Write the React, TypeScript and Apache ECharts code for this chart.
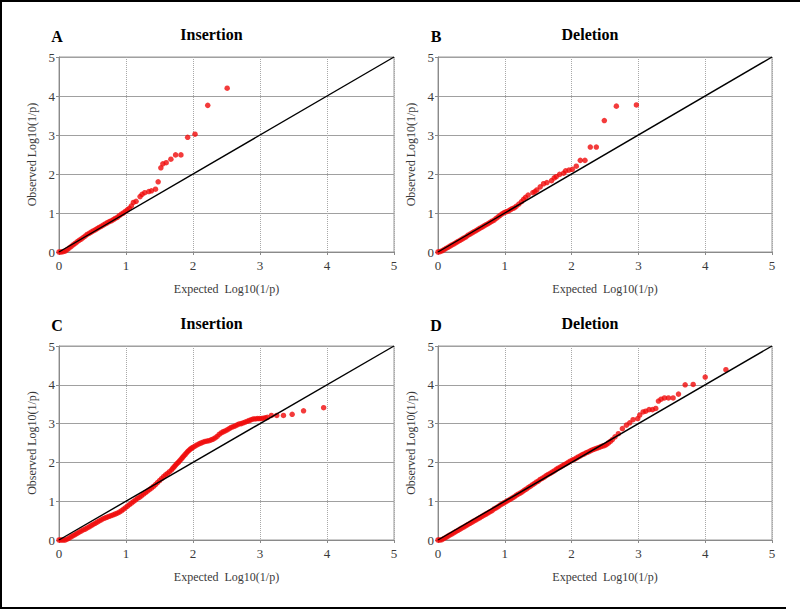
import React, { useEffect, useRef } from "react";
import * as echarts from "echarts";

const panelLetters = ["A", "B", "C", "D"];
const panelTitles = ["Insertion", "Deletion", "Insertion", "Deletion"];
const axisTicks = [0, 1, 2, 3, 4, 5];
const xAxisName = "Expected  Log10(1/p)";
const yAxisName = "Observed Log10(1/p)";
const diagonal = [[0, 0], [5, 5]];

const pointsA = [
  [0, 0], [0.03, 0], [0.06, 0.01], [0.09, 0.02], [0.12, 0.06], [0.15, 0.1], [0.18, 0.14], [0.21, 0.18],
  [0.24, 0.22], [0.27, 0.26], [0.3, 0.3], [0.33, 0.33], [0.36, 0.37], [0.39, 0.41], [0.42, 0.45], [0.45, 0.48],
  [0.48, 0.51], [0.51, 0.54], [0.54, 0.57], [0.57, 0.6], [0.6, 0.63], [0.63, 0.66], [0.66, 0.69], [0.69, 0.72],
  [0.72, 0.75], [0.75, 0.78], [0.78, 0.8], [0.81, 0.83], [0.84, 0.86], [0.87, 0.89], [0.9, 0.93], [0.93, 0.97],
  [0.96, 1.0], [0.99, 1.04], [1.02, 1.08], [1.05, 1.12], [1.08, 1.18], [1.11, 1.27], [1.15, 1.3], [1.21, 1.42],
  [1.24, 1.48], [1.28, 1.52], [1.34, 1.55], [1.38, 1.57], [1.44, 1.61], [1.48, 1.8], [1.52, 2.16], [1.55, 2.26],
  [1.6, 2.29], [1.67, 2.38], [1.74, 2.49], [1.82, 2.49], [1.92, 2.94], [2.03, 3.02], [2.22, 3.76], [2.51, 4.2],
];

const pointsB = [
  [0, 0], [0.03, 0.01], [0.06, 0.03], [0.09, 0.06], [0.12, 0.09], [0.15, 0.12], [0.18, 0.15], [0.21, 0.18],
  [0.24, 0.21], [0.27, 0.24], [0.3, 0.27], [0.33, 0.3], [0.36, 0.33], [0.39, 0.36], [0.42, 0.39], [0.45, 0.43],
  [0.48, 0.46], [0.51, 0.49], [0.54, 0.52], [0.57, 0.55], [0.6, 0.58], [0.63, 0.61], [0.66, 0.64], [0.69, 0.67],
  [0.72, 0.7], [0.75, 0.73], [0.78, 0.76], [0.81, 0.79], [0.84, 0.82], [0.87, 0.86], [0.9, 0.9], [0.93, 0.94],
  [0.96, 0.98], [0.99, 1.01], [1.02, 1.03], [1.05, 1.05], [1.08, 1.08], [1.11, 1.11], [1.14, 1.13], [1.17, 1.17],
  [1.21, 1.23], [1.25, 1.29], [1.28, 1.35], [1.31, 1.4], [1.35, 1.46], [1.42, 1.52], [1.45, 1.55], [1.48, 1.59],
  [1.53, 1.67], [1.58, 1.75], [1.63, 1.78], [1.7, 1.83], [1.74, 1.9], [1.77, 1.93], [1.82, 1.99], [1.88, 2.02],
  [1.91, 2.08], [1.96, 2.1], [2.01, 2.12], [2.07, 2.2], [2.13, 2.35], [2.2, 2.35], [2.28, 2.69], [2.37, 2.69],
  [2.49, 3.37], [2.67, 3.74], [2.97, 3.77],
];

const pointsC = [
  [0, 0], [0.03, 0], [0.06, 0], [0.09, 0], [0.12, 0.02], [0.15, 0.05], [0.18, 0.08], [0.21, 0.11],
  [0.24, 0.14], [0.27, 0.17], [0.3, 0.2], [0.33, 0.23], [0.36, 0.26], [0.39, 0.28], [0.42, 0.31], [0.45, 0.34],
  [0.48, 0.37], [0.51, 0.4], [0.54, 0.43], [0.57, 0.46], [0.6, 0.49], [0.63, 0.52], [0.66, 0.55], [0.69, 0.57],
  [0.72, 0.59], [0.75, 0.61], [0.78, 0.63], [0.81, 0.65], [0.84, 0.67], [0.87, 0.69], [0.9, 0.72], [0.93, 0.75],
  [0.96, 0.79], [0.99, 0.83], [1.02, 0.87], [1.05, 0.91], [1.08, 0.95], [1.11, 0.99], [1.14, 1.03], [1.17, 1.07],
  [1.2, 1.1], [1.23, 1.14], [1.26, 1.18], [1.29, 1.22], [1.32, 1.26], [1.35, 1.3], [1.38, 1.34], [1.41, 1.38],
  [1.44, 1.43], [1.47, 1.48], [1.5, 1.53], [1.53, 1.58], [1.56, 1.63], [1.59, 1.68], [1.62, 1.72], [1.65, 1.76],
  [1.68, 1.81], [1.7, 1.85], [1.72, 1.89], [1.74, 1.93], [1.76, 1.97], [1.78, 2.0], [1.8, 2.04], [1.82, 2.08],
  [1.84, 2.12], [1.86, 2.16], [1.88, 2.2], [1.9, 2.24], [1.92, 2.28], [1.94, 2.31], [1.96, 2.34], [1.98, 2.37],
  [2.0, 2.39], [2.03, 2.42], [2.06, 2.45], [2.09, 2.48], [2.12, 2.5], [2.15, 2.52], [2.18, 2.54], [2.21, 2.55],
  [2.24, 2.56], [2.27, 2.58], [2.3, 2.6], [2.33, 2.63], [2.36, 2.67], [2.39, 2.72], [2.42, 2.76], [2.45, 2.79],
  [2.48, 2.81], [2.51, 2.84], [2.54, 2.87], [2.57, 2.9], [2.6, 2.92], [2.63, 2.94], [2.66, 2.97], [2.69, 2.99],
  [2.72, 3.0], [2.75, 3.02], [2.78, 3.04], [2.81, 3.06], [2.84, 3.08], [2.87, 3.1], [2.9, 3.12], [2.93, 3.12],
  [2.96, 3.13], [2.99, 3.13], [3.02, 3.13], [3.05, 3.14], [3.08, 3.15], [3.11, 3.16], [3.17, 3.21], [3.25, 3.21],
  [3.35, 3.21], [3.48, 3.24], [3.65, 3.33], [3.95, 3.41],
];

const pointsD = [
  [0, 0], [0.03, 0], [0.06, 0.01], [0.09, 0.04], [0.12, 0.07], [0.15, 0.1], [0.18, 0.13], [0.21, 0.16],
  [0.24, 0.19], [0.27, 0.22], [0.3, 0.25], [0.33, 0.28], [0.36, 0.31], [0.39, 0.34], [0.42, 0.37], [0.45, 0.4],
  [0.48, 0.43], [0.51, 0.46], [0.54, 0.49], [0.57, 0.52], [0.6, 0.55], [0.63, 0.58], [0.66, 0.61], [0.69, 0.64],
  [0.72, 0.67], [0.75, 0.7], [0.78, 0.73], [0.81, 0.76], [0.84, 0.8], [0.87, 0.83], [0.9, 0.86], [0.93, 0.9],
  [0.96, 0.93], [0.99, 0.96], [1.02, 0.99], [1.05, 1.02], [1.08, 1.05], [1.11, 1.08], [1.14, 1.11], [1.17, 1.15],
  [1.2, 1.18], [1.23, 1.21], [1.26, 1.24], [1.29, 1.28], [1.32, 1.31], [1.35, 1.35], [1.38, 1.38], [1.41, 1.42],
  [1.44, 1.45], [1.47, 1.49], [1.5, 1.52], [1.53, 1.56], [1.56, 1.59], [1.59, 1.62], [1.62, 1.66], [1.65, 1.69],
  [1.68, 1.72], [1.71, 1.75], [1.74, 1.78], [1.77, 1.82], [1.8, 1.85], [1.83, 1.88], [1.86, 1.91], [1.89, 1.94],
  [1.92, 1.97], [1.95, 2.0], [1.98, 2.03], [2.01, 2.06], [2.04, 2.08], [2.07, 2.11], [2.1, 2.14], [2.13, 2.17],
  [2.16, 2.2], [2.19, 2.22], [2.22, 2.25], [2.25, 2.27], [2.28, 2.3], [2.31, 2.32], [2.34, 2.34], [2.37, 2.36],
  [2.4, 2.38], [2.43, 2.4], [2.46, 2.42], [2.49, 2.43], [2.52, 2.46], [2.55, 2.5], [2.58, 2.54], [2.61, 2.59],
  [2.65, 2.66], [2.7, 2.74], [2.76, 2.87], [2.82, 2.96], [2.87, 3.02], [2.92, 3.1], [2.99, 3.13], [3.02, 3.22],
  [3.07, 3.3], [3.11, 3.32], [3.16, 3.36], [3.21, 3.36], [3.26, 3.39], [3.3, 3.58], [3.34, 3.63], [3.39, 3.66],
  [3.45, 3.66], [3.52, 3.66], [3.6, 3.76], [3.7, 4.0], [3.82, 4.01], [4.0, 4.2], [4.31, 4.39],
];

const panelPoints = [pointsA, pointsB, pointsC, pointsD];

const gridBoxes = [
  { left: 59, top: 57, width: 335, height: 195 },
  { left: 438, top: 57, width: 334, height: 195 },
  { left: 59, top: 346, width: 335, height: 194 },
  { left: 438, top: 346, width: 334, height: 194 },
];

const SERIF = "'Liberation Serif', 'DejaVu Serif', serif";

export default function App() {
  const ref = useRef<HTMLDivElement>(null);
  useEffect(() => {
    if (!ref.current) return;
    const chart = echarts.init(ref.current, undefined, { renderer: "svg" });
    const grid = gridBoxes.map((b) => ({
      ...b,
      show: true,
      backgroundColor: "#ffffff",
      borderColor: "#9a9a9a",
      borderWidth: 1,
      containLabel: false,
    }));
    const xAxis = gridBoxes.map((_, i) => ({
      type: "value",
      gridIndex: i,
      min: 0,
      max: 5,
      interval: 1,
      name: xAxisName,
      nameLocation: "middle",
      nameGap: 31,
      nameTextStyle: { fontFamily: SERIF, fontSize: 12, color: "#3a3a3a" },
      axisLine: { show: true, lineStyle: { color: "#8a8a8a", width: 1 } },
      axisTick: { show: true, length: 3, lineStyle: { color: "#8a8a8a" } },
      axisLabel: { fontFamily: SERIF, fontSize: 13, color: "#3a3a3a", margin: 7, formatter: (v: number) => String(axisTicks[v] ?? v) },
      splitLine: { show: true, lineStyle: { color: "#a8a8a8", type: "dotted", width: 1 } },
    }));
    const yAxis = gridBoxes.map((_, i) => ({
      type: "value",
      gridIndex: i,
      min: 0,
      max: 5,
      interval: 1,
      name: yAxisName,
      nameLocation: "middle",
      nameGap: 21,
      nameTextStyle: { fontFamily: SERIF, fontSize: 12, color: "#3a3a3a" },
      axisLine: { show: true, lineStyle: { color: "#8a8a8a", width: 1 } },
      axisTick: { show: true, length: 3, lineStyle: { color: "#8a8a8a" } },
      axisLabel: { fontFamily: SERIF, fontSize: 13, color: "#3a3a3a", margin: 4 },
      splitLine: { show: true, lineStyle: { color: "#a0a0a0", type: "solid", width: 1 } },
    }));
    const series: any[] = [];
    panelPoints.forEach((pts, i) => {
      series.push({
        type: "scatter",
        xAxisIndex: i,
        yAxisIndex: i,
        data: pts,
        symbol: "circle",
        symbolSize: 5.5,
        itemStyle: { color: "#f00a0a" },
        z: 2,
      });
      series.push({
        type: "line",
        xAxisIndex: i,
        yAxisIndex: i,
        data: diagonal,
        symbol: "none",
        lineStyle: { color: "#000", width: 1.4 },
        z: 3,
      });
    });
    const graphic: any[] = [];
    gridBoxes.forEach((b, i) => {
      const ty = b.top - 23;
      graphic.push({
        type: "text",
        x: b.left - 2,
        y: ty + 2,
        style: { text: panelLetters[i], font: `bold 16px ${SERIF}`, fill: "#000", align: "center", verticalAlign: "middle" },
      });
      graphic.push({
        type: "text",
        x: b.left + b.width * 0.455,
        y: ty,
        style: { text: panelTitles[i], font: `bold 16px ${SERIF}`, fill: "#000", align: "center", verticalAlign: "middle" },
      });
    });
    graphic.push({ type: "line", shape: { x1: 1, y1: 0, x2: 1, y2: 609 }, style: { stroke: "#000", lineWidth: 2 } });
    graphic.push({ type: "line", shape: { x1: 0, y1: 1, x2: 800, y2: 1 }, style: { stroke: "#000", lineWidth: 2 } });
    graphic.push({ type: "line", shape: { x1: 0, y1: 608, x2: 786, y2: 608 }, style: { stroke: "#000", lineWidth: 2 } });

    chart.setOption({
      animation: false,
      backgroundColor: "#ffffff",
      grid,
      xAxis,
      yAxis,
      series,
      graphic,
    });
    return () => chart.dispose();
  }, []);
  return (
    <div
      ref={ref}
      style={{ position: "absolute", left: 0, top: 0, width: 800, height: 609 }}
    />
  );
}
